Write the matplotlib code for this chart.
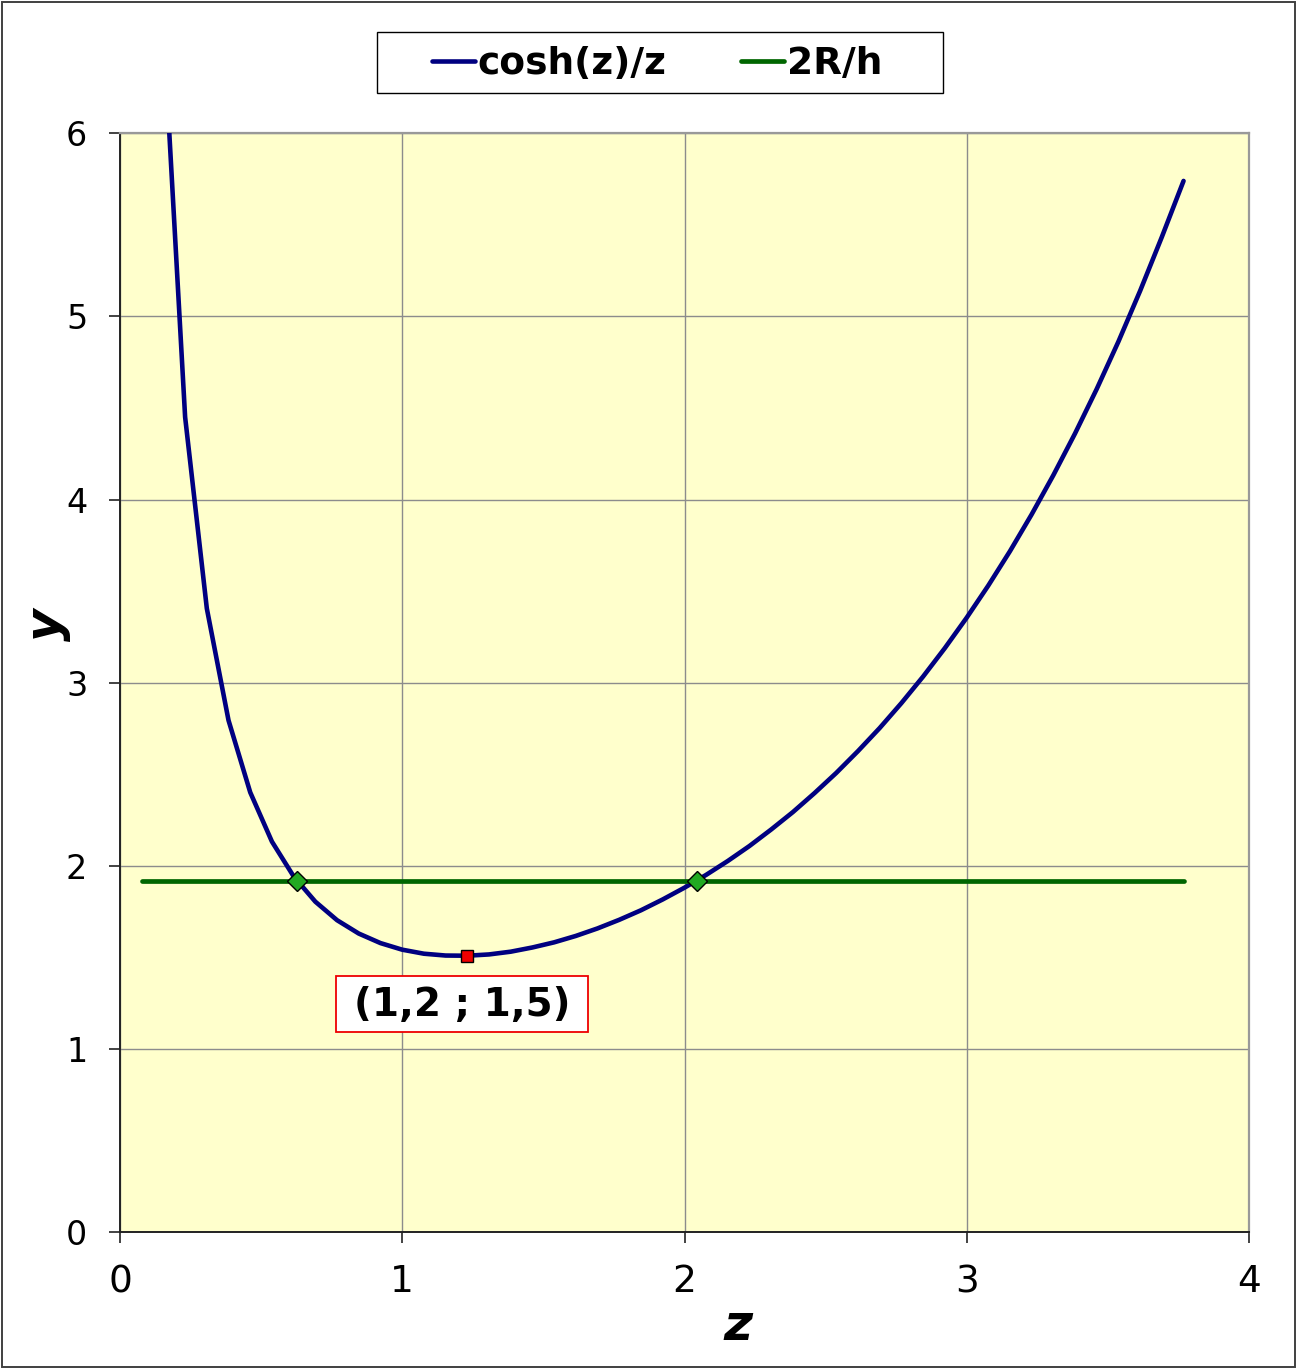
import matplotlib
matplotlib.use("Agg")
import matplotlib.pyplot as plt
from matplotlib.patches import Rectangle

# ---- data ----
z_vals = [0.0769, 0.1538, 0.2307, 0.3076, 0.3845, 0.4614, 0.5383, 0.6152, 0.6921, 0.7690,
          0.8459, 0.9228, 0.9997, 1.0766, 1.1535, 1.2304, 1.3073, 1.3842, 1.4611, 1.5380,
          1.6149, 1.6918, 1.7687, 1.8456, 1.9225, 1.9994, 2.0763, 2.1532, 2.2301, 2.3070,
          2.3839, 2.4608, 2.5377, 2.6146, 2.6915, 2.7684, 2.8453, 2.9222, 2.9991, 3.0760,
          3.1529, 3.2298, 3.3067, 3.3836, 3.4605, 3.5374, 3.6143, 3.6912, 3.7681]
cosh_over_z = [13.042, 6.579, 4.451, 3.406, 2.795, 2.402, 2.133, 1.943, 1.805, 1.704,
               1.631, 1.579, 1.543, 1.521, 1.511, 1.510, 1.517, 1.532, 1.555, 1.583,
               1.618, 1.659, 1.706, 1.758, 1.817, 1.881, 1.951, 2.027, 2.109, 2.199,
               2.294, 2.398, 2.508, 2.627, 2.753, 2.889, 3.034, 3.189, 3.354, 3.530,
               3.718, 3.919, 4.133, 4.361, 4.604, 4.863, 5.140, 5.434, 5.740]
ratio_2R_h = [1.92] * len(z_vals)
intersect_z = [0.627, 2.044]
intersect_y = [1.92, 1.92]
min_z = [1.2304]
min_y = [1.5096]
min_label = "(1,2 ; 1,5)"
series_names = ["cosh(z)/z", "2R/h"]
x_ticks = [0, 1, 2, 3, 4]
y_ticks = [0, 1, 2, 3, 4, 5, 6]

W, H = 1297, 1368
fig = plt.figure(figsize=(W / 100, H / 100), dpi=100)
fig.patch.set_facecolor("white")

def fx(px):
    return px / W

def fy(py):
    return 1 - py / H

def prect(x0, y0, x1, y1, **kw):
    # rectangle given in pixel coordinates (top-left origin)
    fig.add_artist(Rectangle((fx(x0), fy(y1)), (x1 - x0) / W, (y1 - y0) / H,
                             transform=fig.transFigure, **kw))

# outer border
prect(1.5, 1.5, 1294.5, 1366.5, fill=False, edgecolor="#404040", linewidth=1.4)

ax = fig.add_axes([fx(120), fy(1232.3), fx(1249 - 120), (1232.3 - 133.3) / H])
ax.set_facecolor("#FFFFCC")
ax.set_xlim(0, 4)
ax.set_ylim(0, 6)
ax.set_xticks(x_ticks)
ax.set_yticks(y_ticks)
ax.grid(True, color="#8c8c8c", linewidth=1.0)
ax.set_axisbelow(True)
ax.tick_params(axis="both", direction="out", length=8, width=1.2, color="#222222",
               labelcolor="black")
ax.tick_params(axis="x", labelsize=27, pad=15)
ax.tick_params(axis="y", labelsize=24, pad=15.5)
for s in ["top", "right"]:
    ax.spines[s].set_color("#999999")
    ax.spines[s].set_linewidth(1.6)
for s in ["left", "bottom"]:
    ax.spines[s].set_color("#222222")
    ax.spines[s].set_linewidth(1.4)

l1, = ax.plot(z_vals, cosh_over_z, color="#000080", linewidth=3.3, label=series_names[0],
              solid_capstyle="round", clip_on=True, zorder=3)
l2, = ax.plot(z_vals, ratio_2R_h, color="#006600", linewidth=3.4, label=series_names[1],
              solid_capstyle="round", zorder=3)
ax.plot(intersect_z, intersect_y, linestyle="none", marker="D", markersize=10,
        markerfacecolor="#22AA22", markeredgecolor="black", markeredgewidth=1.0, zorder=4)
ax.plot(min_z, min_y, linestyle="none", marker="s", markersize=8.5,
        markerfacecolor="#EE0000", markeredgecolor="black", markeredgewidth=1.0, zorder=4)

# value label box
prect(336, 976, 588, 1032, facecolor="white", edgecolor="#EE0000", linewidth=1.3, zorder=5)
fig.text(fx(462), fy(1005), min_label, ha="center", va="center", fontsize=28,
         fontweight="bold", zorder=6)

fig.text(fx(738), fy(1326), "z", ha="center", va="center", fontsize=36,
         fontweight="bold", fontstyle="italic")
fig.text(fx(47), fy(625), "y", ha="center", va="center", fontsize=36,
         fontweight="bold", fontstyle="italic", rotation=90)

# legend
prect(377, 32.5, 943, 93, facecolor="white", edgecolor="black", linewidth=1.0)
leg = fig.legend(handles=[l1, l2], loc="center left", bbox_to_anchor=(fx(432), fy(64)),
                 ncol=2, frameon=False, prop=dict(size=27, weight="bold"),
                 handlelength=1.15, handletextpad=0.06, columnspacing=2.0, borderpad=0.0,
                 borderaxespad=0.0)

fig.savefig("out.png", dpi=100)
